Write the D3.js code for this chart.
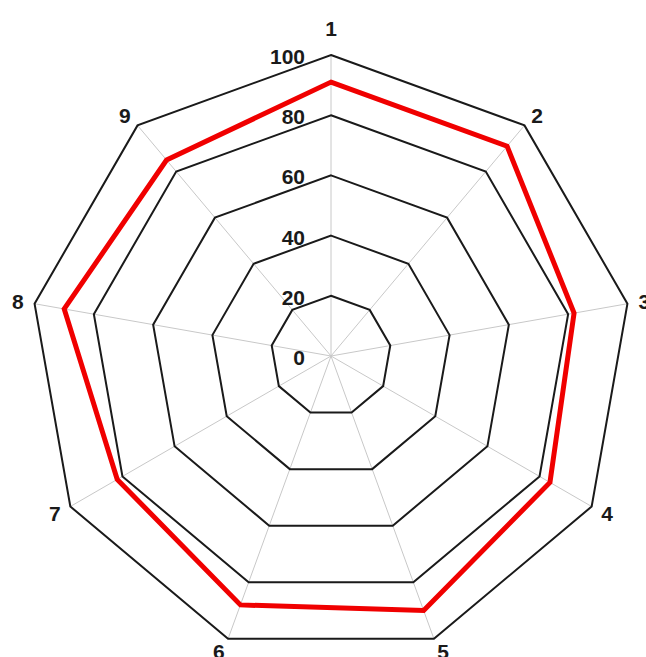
<!DOCTYPE html>
<html>
<head>
<meta charset="utf-8">
<script src="https://cdn.jsdelivr.net/npm/d3@7"></script>
<style>
  html, body { margin: 0; padding: 0; background: #fff; }
  svg { display: block; }
  text { font-family: "Liberation Sans", Arial, sans-serif; font-weight: bold; fill: #1a1a1a; }
</style>
</head>
<body>
<div id="radar"></div>
<script>
// 資料
var categories = ['1', '2', '3', '4', '5', '6', '7', '8', '9'];
var values = [91, 91, 82, 84, 90, 88, 82, 90, 85];
var ticks = [0, 20, 40, 60, 80, 100];

// 畫布
const width = 646;
const height = 657;
const cx = 331, cy = 356;
const outerR = 301;

var svg = d3.select('#radar')
  .append('svg')
    .attr('width', width)
    .attr('height', height);

var g = svg.append('g')
  .attr('transform', `translate(${cx}, ${cy})`);

// 比例尺
var r = d3.scaleLinear().domain([0, 100]).range([0, outerR]);
var angle = d3.scaleBand()
  .domain(categories)
  .range([0, 2 * Math.PI])
  .align(0)
  .paddingInner(0);
const angleOf = d => angle(d);

// 放射線
g.selectAll('line.spoke')
  .data(categories)
  .enter()
  .append('line')
  .attr('class', 'spoke')
  .attr('x1', 0).attr('y1', 0)
  .attr('x2', d => r(100) * Math.sin(angleOf(d)))
  .attr('y2', d => -r(100) * Math.cos(angleOf(d)))
  .style('stroke', '#c8c8c8')
  .style('stroke-width', 1);

// 格線 (多邊形)
var ringLine = d3.lineRadial()
  .angle(d => angleOf(d.cat))
  .radius(d => r(d.v))
  .curve(d3.curveLinearClosed);

g.selectAll('path.ring')
  .data(ticks.filter(t => t > 0))
  .enter()
  .append('path')
  .attr('class', 'ring')
  .attr('d', t => ringLine(categories.map(c => ({cat: c, v: t}))))
  .style('fill', 'none')
  .style('stroke', '#1a1a1a')
  .style('stroke-width', 2);

// 資料線
g.append('path')
  .datum(categories.map((c, i) => ({cat: c, v: values[i]})))
  .attr('d', ringLine)
  .style('fill', 'none')
  .style('stroke', '#f00000')
  .style('stroke-width', 5)
  .style('stroke-linejoin', 'miter');

// 刻度文字
g.selectAll('text.tick')
  .data(ticks)
  .enter()
  .append('text')
  .attr('class', 'tick')
  .attr('x', -26)
  .attr('y', t => -r(t) + 9)
  .style('text-anchor', 'end')
  .style('font-size', '21px')
  .text(t => t);

// 類別文字 (跟原圖一樣，3/5/6 會被邊緣切到)
g.selectAll('text.cat')
  .data(categories)
  .enter()
  .append('text')
  .attr('class', 'cat')
  .attr('x', d => {
    var s = Math.sin(angleOf(d));
    var x = r(100) * s;
    return x + s * 12 + (Math.abs(s) < 0.01 ? 0 : Math.sign(s) * 5);
  })
  .attr('y', d => {
    var c = Math.cos(angleOf(d));
    var y = -r(100) * c;
    return y + (c > 0.9 ? -27 : -c * 13);
  })
  .attr('dy', '0.36em')
  .style('text-anchor', 'middle')
  .style('font-size', '21px')
  .text(d => d);
</script>
</body>
</html>
